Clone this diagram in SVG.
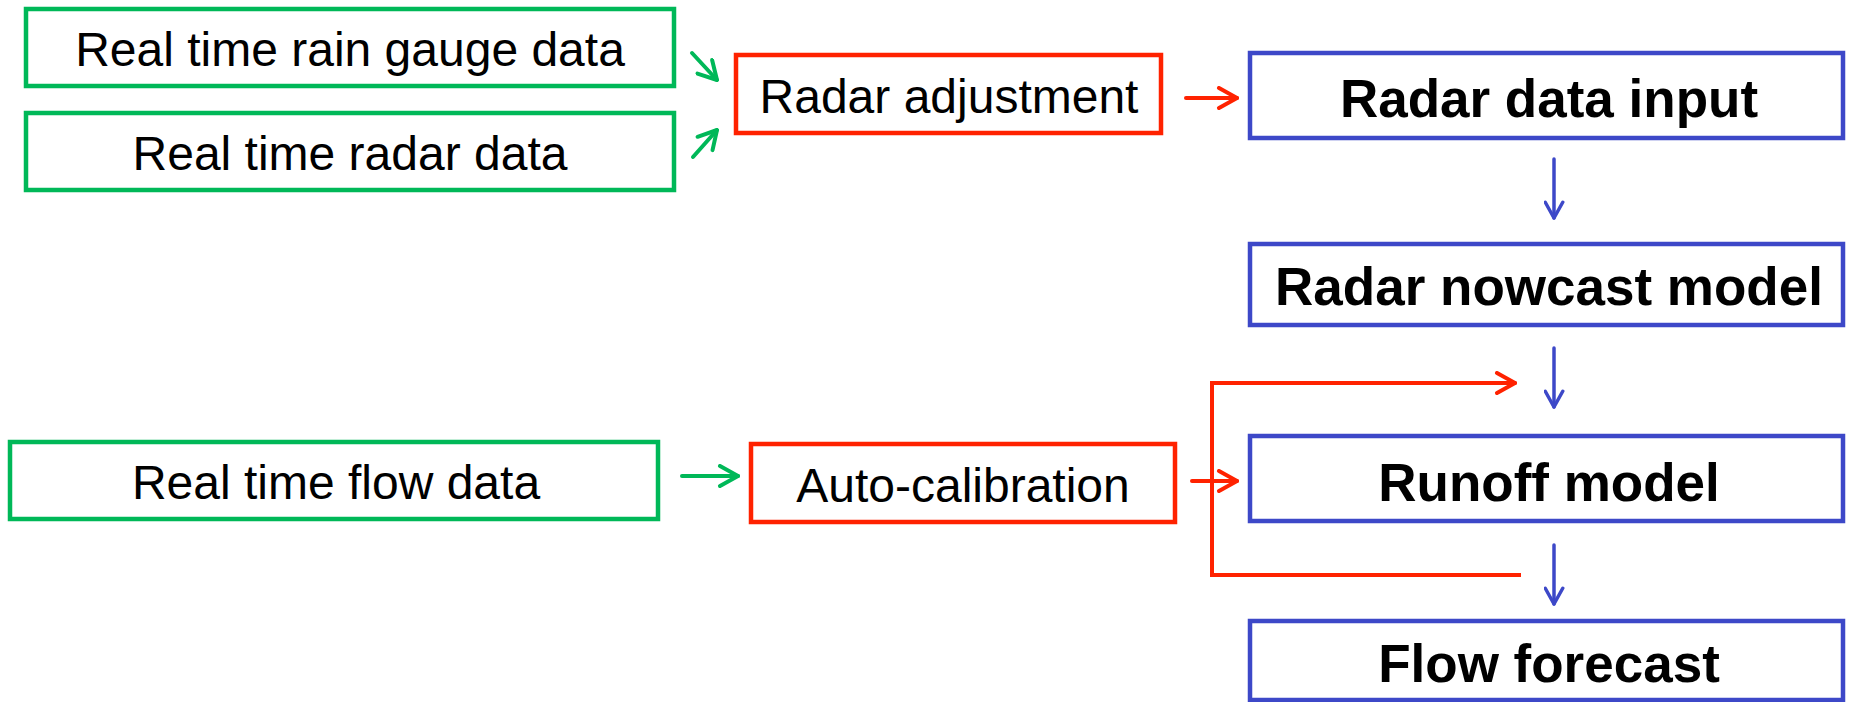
<svg xmlns="http://www.w3.org/2000/svg" width="1849" height="702" viewBox="0 0 1849 702">
<defs>
<style>
.g{fill:#fff;stroke:#00B858;stroke-width:4.5}
.r{fill:#fff;stroke:#FF2200;stroke-width:4.5}
.b{fill:#fff;stroke:#3D48C8;stroke-width:4.5}
.t{font-family:"Liberation Sans",Arial,sans-serif;font-size:48px;fill:#000;text-anchor:middle}
.tb{font-family:"Liberation Sans",Arial,sans-serif;font-size:53px;font-weight:bold;fill:#000;text-anchor:middle}
.cg{stroke:#00B858;stroke-width:4;fill:none;stroke-linecap:round}
.cr{stroke:#FF2200;stroke-width:4;fill:none;stroke-linecap:round}
.cb{stroke:#3D48C8;stroke-width:3.5;fill:none;stroke-linecap:round}
</style>
<marker id="ag" viewBox="0 0 12 12" refX="11" refY="6" markerWidth="6" markerHeight="6" markerUnits="strokeWidth" orient="auto"><path d="M2,1 L11,6 L2,11" fill="none" stroke="#00B858" stroke-width="2" stroke-linecap="round" stroke-linejoin="round"/></marker>
<marker id="ar" viewBox="0 0 12 12" refX="11" refY="6" markerWidth="6" markerHeight="6" markerUnits="strokeWidth" orient="auto"><path d="M2,1 L11,6 L2,11" fill="none" stroke="#FF2200" stroke-width="2" stroke-linecap="round" stroke-linejoin="round"/></marker>
<marker id="ab" viewBox="0 0 12 12" refX="11" refY="6" markerWidth="6" markerHeight="6" markerUnits="strokeWidth" orient="auto"><path d="M2,1 L11,6 L2,11" fill="none" stroke="#3D48C8" stroke-width="2" stroke-linecap="round" stroke-linejoin="round"/></marker>
</defs>
<rect width="1849" height="702" fill="#fff"/>
<g id="connectors">
<line class="cg" x1="692" y1="53" x2="717" y2="80" marker-end="url(#ag)"/>
<line class="cg" x1="693" y1="157" x2="717" y2="130" marker-end="url(#ag)"/>
<line class="cg" x1="682" y1="476" x2="738" y2="476" marker-end="url(#ag)"/>
<line class="cr" x1="1186" y1="98" x2="1237" y2="98" marker-end="url(#ar)"/>
<line class="cr" x1="1192" y1="481" x2="1237" y2="481" marker-end="url(#ar)"/>
<polyline class="cr" points="1515,383 1212,383 1212,575 1521,575" style="stroke-linecap:butt"/>
<line class="cr" x1="1480" y1="383" x2="1515" y2="383" marker-end="url(#ar)"/>
<line class="cb" x1="1554" y1="159" x2="1554" y2="218" marker-end="url(#ab)"/>
<line class="cb" x1="1554" y1="348" x2="1554" y2="407" marker-end="url(#ab)"/>
<line class="cb" x1="1554" y1="545" x2="1554" y2="604" marker-end="url(#ab)"/>
</g>
<g id="n-rain"><rect class="g" x="26" y="9" width="648" height="77"/><text class="t" x="350" y="66">Real time rain gauge data</text></g>
<g id="n-radar"><rect class="g" x="26" y="113" width="648" height="77"/><text class="t" x="350" y="170">Real time radar data</text></g>
<g id="n-flow"><rect class="g" x="10" y="442" width="648" height="77"/><text class="t" x="336" y="499">Real time flow data</text></g>
<g id="n-adjust"><rect class="r" x="736" y="55" width="425" height="78"/><text class="t" x="949" y="113">Radar adjustment</text></g>
<g id="n-calib"><rect class="r" x="751" y="444" width="424" height="78"/><text class="t" x="963" y="502">Auto-calibration</text></g>
<g id="n-input"><rect class="b" x="1250" y="53" width="593" height="85"/><text class="tb" x="1549" y="117">Radar data input</text></g>
<g id="n-nowcast"><rect class="b" x="1250" y="244" width="593" height="81"/><text class="tb" x="1549" y="305">Radar nowcast model</text></g>
<g id="n-runoff"><rect class="b" x="1250" y="436" width="593" height="85"/><text class="tb" x="1549" y="501">Runoff model</text></g>
<g id="n-forecast"><rect class="b" x="1250" y="621" width="593" height="79"/><text class="tb" x="1549" y="682">Flow forecast</text></g>
</svg>
